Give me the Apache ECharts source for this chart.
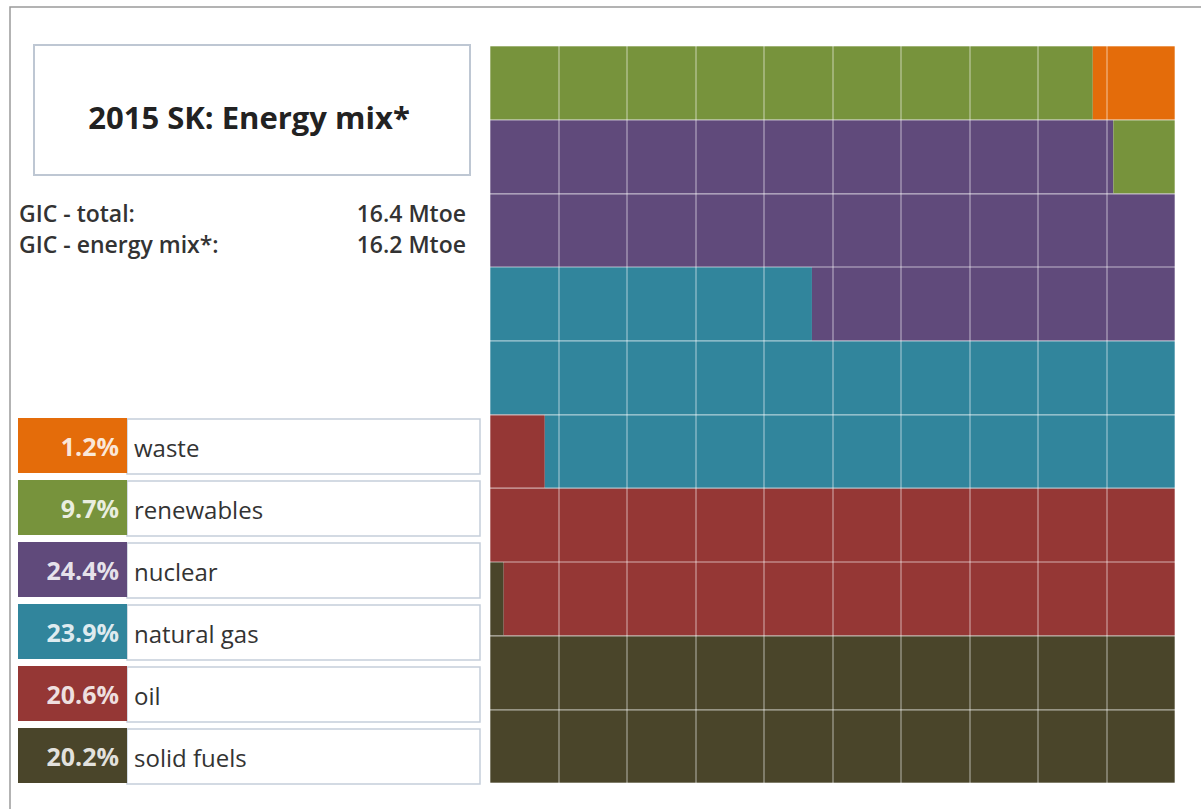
<!DOCTYPE html>
<html>
<head>
<meta charset="utf-8">
<script src="https://cdn.jsdelivr.net/npm/echarts@6/dist/echarts.min.js"></script>
<style>
html,body{margin:0;padding:0;background:#fff;}
#main{width:1201px;height:809px;}
</style>
</head>
<body>
<div id="main"></div>
<script>
// ---- data ----
const titleText = '2015 SK: Energy mix*';
const gicLabels = ['GIC - total:', 'GIC - energy mix*:'];
const gicValues = ['16.4 Mtoe', '16.2 Mtoe'];
const categories = ['waste', 'renewables', 'nuclear', 'natural gas', 'oil', 'solid fuels'];
const shares = [1.2, 9.7, 24.4, 23.9, 20.6, 20.2];
const colors = ['#E46C0A', '#77933C', '#604A7B', '#31859C', '#953735', '#4A452A'];
const rowCats = ['1', '2', '3', '4', '5', '6', '7', '8', '9', '10'];
const cellsPerRow = 10;

// ---- waffle rows: fill from bottom-left, row by row ----
const stackOrder = categories.map((c, i) => i).reverse(); // solid fuels first
let cum = 0;
const series = stackOrder.map(idx => {
  const start = cum, end = cum + shares[idx];
  cum = end;
  const data = rowCats.map((r, ri) => {
    const lo = ri * cellsPerRow, hi = lo + cellsPerRow;
    const seg = Math.max(0, Math.min(end, hi) - Math.max(start, lo));
    return +seg.toFixed(3);
  });
  return {
    name: categories[idx],
    type: 'bar',
    stack: 'w',
    barWidth: '100%',
    barCategoryGap: 0,
    itemStyle: { color: colors[idx] },
    emphasis: { disabled: true },
    data: data
  };
});

// ---- left panel graphics ----
const F = '"Open Sans"';
const graphics = [];
graphics.push({ type: 'rect', shape: { x: 10, y: 7, width: 1400, height: 1000 }, style: { fill: 'none', stroke: '#9a9a9a', lineWidth: 1.5 }, silent: true });
graphics.push({ type: 'rect', shape: { x: 34, y: 45, width: 436, height: 130 }, style: { fill: '#fff', stroke: '#BEC7D3', lineWidth: 2 } });
graphics.push({ type: 'text', x: 249, y: 117, style: { text: titleText, font: 'bold 31px ' + F, fill: '#222', textAlign: 'center', textVerticalAlign: 'middle' } });
gicLabels.forEach((t, i) => {
  graphics.push({ type: 'text', x: 19, y: 213 + i * 31, style: { text: t, font: '600 23px ' + F, fill: '#333', textAlign: 'left', textVerticalAlign: 'middle' } });
  graphics.push({ type: 'text', x: 466, y: 213 + i * 31, style: { text: gicValues[i], font: '600 23px ' + F, fill: '#333', textAlign: 'right', textVerticalAlign: 'middle' } });
});
categories.forEach((c, i) => {
  const y = 418 + i * 62;
  graphics.push({ type: 'rect', shape: { x: 127, y: y + 1, width: 353, height: 55 }, style: { fill: '#fff', stroke: '#C5CEDA', lineWidth: 1.5 } });
  graphics.push({ type: 'rect', shape: { x: 18, y: y, width: 109, height: 55 }, style: { fill: colors[i] } });
  graphics.push({ type: 'text', x: 119, y: y + 28, style: { text: shares[i].toFixed(1) + '%', font: 'bold 25px ' + F, fill: 'rgba(255,255,255,0.85)', textAlign: 'right', textVerticalAlign: 'middle' } });
  graphics.push({ type: 'text', x: 134, y: y + 29, style: { text: c, font: '24px ' + F, fill: '#333', textAlign: 'left', textVerticalAlign: 'middle' } });
});

const chart = echarts.init(document.getElementById('main'), null, { renderer: 'svg' });
chart.setOption({
  backgroundColor: '#fff',
  animation: false,
  graphic: graphics,
  grid: { left: 490, top: 46, width: 685, height: 737 },
  xAxis: {
    type: 'value', min: 0, max: cellsPerRow, interval: 1, z: 10,
    axisLine: { show: false }, axisTick: { show: false }, axisLabel: { show: false },
    splitLine: { show: true, lineStyle: { color: 'rgba(255,255,255,0.3)', width: 2 } }
  },
  yAxis: {
    type: 'category', data: rowCats, z: 10,
    axisLine: { show: false }, axisTick: { show: false }, axisLabel: { show: false },
    splitLine: { show: true, lineStyle: { color: 'rgba(255,255,255,0.3)', width: 2 } }
  },
  series: series
});
</script>
</body>
</html>
